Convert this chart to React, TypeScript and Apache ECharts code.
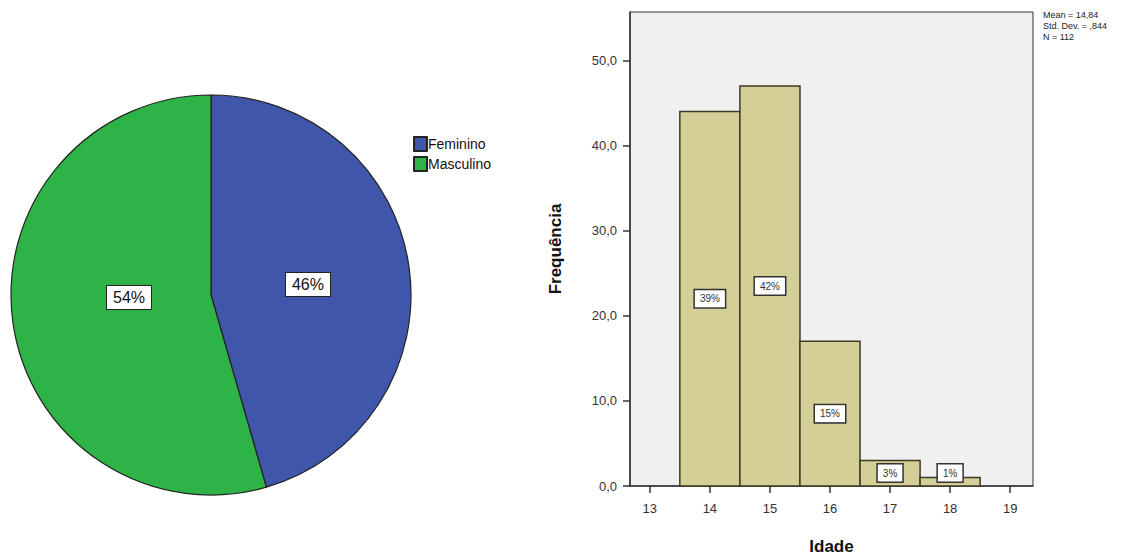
import React, { useEffect, useRef } from "react";
import * as echarts from "echarts";

const sexCategories = ["Feminino", "Masculino"];
const sexCounts = [51, 61];
const sexColors = ["#3F56AA", "#2EB446"];

const ages = [14, 15, 16, 17, 18];
const ageCounts = [44, 47, 17, 3, 1];
const xTickValues = [13, 14, 15, 16, 17, 18, 19];
const yTickValues = [0, 10, 20, 30, 40, 50];
const statsLines = ["Mean = 14,84", "Std. Dev. = ,844", "N = 112"];

const FONT = "Arial, 'Liberation Sans', sans-serif";
const PIE_LABEL_OFFSETS: number[][] = [[-5, 4], [20, -12]];

export default function App() {
  const ref = useRef<HTMLDivElement>(null);
  useEffect(() => {
    if (!ref.current) return;
    const chart = echarts.init(ref.current, null, { renderer: "svg" });
    const total = ageCounts.reduce((a, b) => a + b, 0);
    const histData = ages.map((a, i) => [a, ageCounts[i]]);
    chart.setOption({
      animation: false,
      backgroundColor: "#ffffff",
      textStyle: { fontFamily: FONT },
      legend: {
        orient: "vertical",
        left: 413,
        top: 136,
        padding: 0,
        itemWidth: 13,
        itemHeight: 14,
        itemGap: 4,
        icon: "rect",
        data: sexCategories,
        textStyle: { fontSize: 14, color: "#111", fontFamily: FONT, padding: [0, 0, 0, -4] },
      },
      grid: {
        left: 630,
        right: 100,
        top: 12,
        bottom: 69,
        show: true,
        backgroundColor: "#F0F0F0",
        borderColor: "#333",
        borderWidth: 1,
      },
      xAxis: {
        type: "value",
        min: 12.67,
        max: 19.38,
        name: "Idade",
        nameLocation: "middle",
        nameGap: 52,
        nameTextStyle: { fontSize: 17, fontWeight: "bold", color: "#111", fontFamily: FONT },
        splitLine: { show: false },
        axisLine: { show: true, lineStyle: { color: "#333", width: 1.5 } },
        axisTick: { show: true, length: 7, inside: false, customValues: xTickValues, lineStyle: { color: "#333", width: 1.5 } },
        axisLabel: {
          customValues: xTickValues,
          fontSize: 13,
          color: "#333",
          margin: 16,
          formatter: (v: number) => String(v),
        },
      },
      yAxis: {
        type: "value",
        min: 0,
        max: 55.7,
        name: "Frequência",
        nameLocation: "middle",
        nameGap: 66,
        nameTextStyle: { fontSize: 17, fontWeight: "bold", color: "#111", fontFamily: FONT },
        splitLine: { show: false },
        axisLine: { show: true, lineStyle: { color: "#333", width: 1.5 } },
        axisTick: { show: true, length: 7, customValues: yTickValues, lineStyle: { color: "#333", width: 1.5 } },
        axisLabel: {
          customValues: yTickValues,
          fontSize: 13,
          color: "#333",
          margin: 13,
          formatter: (v: number) => v.toFixed(1).replace(".", ","),
        },
      },
      graphic: [
        {
          type: "text",
          left: 1043,
          top: 9,
          style: {
            text: statsLines.join("\n"),
            fontSize: 9,
            lineHeight: 11,
            fill: "#222",
            fontFamily: FONT,
          },
        },
      ],
      series: [
        {
          type: "pie",
          center: [211, 295],
          radius: 200,
          startAngle: 90,
          clockwise: true,
          data: sexCategories.map((name, i) => ({
            name,
            value: sexCounts[i],
            itemStyle: { color: sexColors[i] },
            label: { offset: PIE_LABEL_OFFSETS[i] },
          })),
          itemStyle: { borderColor: "#222", borderWidth: 1.2 },
          label: {
            show: true,
            position: "inside",
            formatter: (p: any) => Math.round(p.percent) + "%",
            fontSize: 16,
            color: "#111",
            fontFamily: FONT,
            backgroundColor: "#ffffff",
            borderColor: "#222",
            borderWidth: 1,
            padding: [4, 6, 3, 6],
          },
          labelLine: { show: false },
          emphasis: { disabled: true },
        },
        {
          type: "custom",
          data: histData,
          encode: { x: 0, y: 1 },
          renderItem: (params: any, api: any) => {
            const age = api.value(0);
            const c = api.value(1);
            const p0 = api.coord([age - 0.5, c]);
            const p1 = api.coord([age + 0.5, 0]);
            const cx = (p0[0] + p1[0]) / 2;
            const cy = Math.min((p0[1] + p1[1]) / 2, p1[1] - 13);
            return {
              type: "group",
              children: [
                {
                  type: "rect",
                  shape: { x: p0[0], y: p0[1], width: p1[0] - p0[0], height: p1[1] - p0[1] },
                  style: { fill: "#D4CF97", stroke: "#3E3A26", lineWidth: 1.5 },
                },
                {
                  type: "text",
                  x: cx,
                  y: cy,
                  style: {
                    text: Math.round((c / total) * 100) + "%",
                    fontSize: 10,
                    fontFamily: FONT,
                    fill: "#333",
                    align: "center",
                    verticalAlign: "middle",
                    backgroundColor: "#ffffff",
                    borderColor: "#333",
                    borderWidth: 1.5,
                    padding: [4, 5, 3, 5],
                  },
                },
              ],
            };
          },
        },
      ],
    });
    return () => chart.dispose();
  }, []);
  return <div ref={ref} style={{ width: 1133, height: 560, margin: -8 }} />;
}
